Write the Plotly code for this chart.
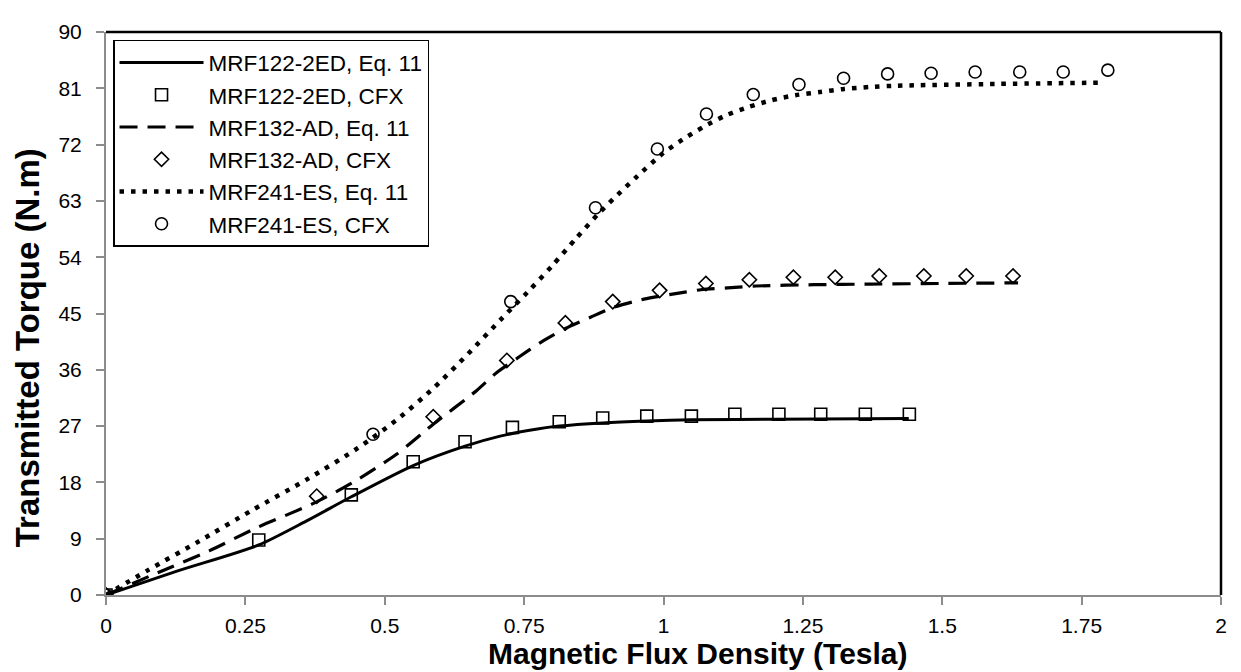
import plotly.graph_objects as go

# MRF122-2ED
eq122_x = [0, 0.13, 0.274, 0.359, 0.44, 0.551, 0.644, 0.707, 0.771, 0.813, 0.891, 0.97, 1.05, 1.2, 1.44]
eq122_y = [0, 3.9, 8.0, 11.8, 15.7, 20.7, 23.8, 25.4, 26.5, 27.0, 27.5, 27.8, 28.0, 28.1, 28.2]
cfx122_x = [0, 0.274, 0.44, 0.551, 0.644, 0.729, 0.813, 0.891, 0.97, 1.05, 1.128, 1.207, 1.282, 1.362, 1.441]
cfx122_y = [0, 8.8, 16.0, 21.3, 24.5, 26.8, 27.7, 28.3, 28.6, 28.6, 28.9, 28.9, 28.9, 28.9, 28.9]

# MRF132-AD
eq132_x = [0, 0.095, 0.185, 0.269, 0.371, 0.443, 0.521, 0.587, 0.665, 0.70, 0.74, 0.78, 0.824, 0.869,
           0.911, 0.965, 1.016, 1.067, 1.115, 1.166, 1.27, 1.37, 1.5, 1.636]
eq132_y = [0, 3.65, 7.05, 10.7, 14.6, 18.0, 22.5, 27.3, 32.7, 35.5, 38.0, 40.4, 42.6, 44.4,
           46.0, 47.3, 48.1, 48.8, 49.1, 49.4, 49.6, 49.7, 49.8, 49.9]
cfx132_x = [0, 0.378, 0.587, 0.719, 0.824, 0.909, 0.993, 1.076, 1.154, 1.233, 1.308, 1.387, 1.467, 1.543, 1.627]
cfx132_y = [0, 15.8, 28.5, 37.5, 43.5, 46.9, 48.7, 49.8, 50.4, 50.8, 50.8, 51.0, 51.0, 51.0, 51.0]

# MRF241-ES
eq241_x = [0, 0.074, 0.167, 0.263, 0.359, 0.452, 0.523, 0.589, 0.650, 0.711, 0.756, 0.800, 0.844, 0.887,
           0.918, 0.950, 0.999, 1.034, 1.071, 1.110, 1.152, 1.194, 1.237, 1.281, 1.324, 1.369, 1.413, 1.6, 1.789]
eq241_y = [0, 3.9, 8.6, 13.6, 18.4, 23.5, 28.1, 33.2, 38.6, 44.3, 48.4, 52.6, 57.1, 61.3,
           64.0, 66.7, 70.6, 72.8, 74.8, 76.6, 78.0, 79.1, 79.9, 80.4, 80.9, 81.2, 81.4, 81.7, 81.9]
cfx241_x = [0, 0.479, 0.726, 0.878, 0.989, 1.077, 1.161, 1.243, 1.323, 1.402, 1.480, 1.559, 1.639, 1.717, 1.797]
cfx241_y = [0, 25.7, 46.9, 61.9, 71.3, 76.9, 80.0, 81.6, 82.6, 83.3, 83.4, 83.6, 83.6, 83.6, 83.9]

x_ticks = [0, 0.25, 0.5, 0.75, 1, 1.25, 1.5, 1.75, 2]
x_tick_labels = ["0", "0.25", "0.5", "0.75", "1", "1.25", "1.5", "1.75", "2"]
y_ticks = [0, 9, 18, 27, 36, 45, 54, 63, 72, 81, 90]

names = ["MRF122-2ED, Eq. 11", "MRF122-2ED, CFX", "MRF132-AD, Eq. 11",
         "MRF132-AD, CFX", "MRF241-ES, Eq. 11", "MRF241-ES, CFX"]

fig = go.Figure()
mk_line = dict(color="black", width=1.6)

fig.add_trace(go.Scatter(x=eq122_x, y=eq122_y, mode="lines", name=names[0],
                         line=dict(color="black", width=3, shape="spline", smoothing=0.7)))
fig.add_trace(go.Scatter(x=cfx122_x, y=cfx122_y, mode="markers", name=names[1],
                         marker=dict(symbol="square-open", size=12, color="black", line=mk_line)))
fig.add_trace(go.Scatter(x=eq132_x, y=eq132_y, mode="lines", name=names[2],
                         line=dict(color="black", width=3.2, dash="18px,10px", shape="spline", smoothing=0.7)))
fig.add_trace(go.Scatter(x=cfx132_x, y=cfx132_y, mode="markers", name=names[3],
                         marker=dict(symbol="diamond-open", size=11, color="black", line=mk_line)))
fig.add_trace(go.Scatter(x=eq241_x, y=eq241_y, mode="lines", name=names[4],
                         line=dict(color="black", width=4.5, dash="4.5px,7px", shape="spline", smoothing=0.7)))
fig.add_trace(go.Scatter(x=cfx241_x, y=cfx241_y, mode="markers", name=names[5],
                         marker=dict(symbol="circle-open", size=12, color="black", line=mk_line)))

axis_gray = "#8c8c8c"
# page body has an 8px default margin, so the figure is sized to fit the 1241x672 window
fig.update_layout(
    width=1233, height=664,
    margin=dict(l=98, r=20, t=13, b=77),
    paper_bgcolor="white", plot_bgcolor="white",
    font=dict(family="Arial, Liberation Sans, sans-serif", color="black", size=21),
    showlegend=True,
    legend=dict(x=0.0063, y=0.986, xanchor="left", yanchor="top",
                bordercolor="black", borderwidth=1.5, bgcolor="white",
                font=dict(size=22.5), itemwidth=84, tracegroupgap=0,
                traceorder="normal"),
    xaxis=dict(range=[0, 2], tickvals=x_ticks, ticktext=x_tick_labels,
               showgrid=False, zeroline=False, showline=True, linecolor=axis_gray, linewidth=2,
               ticks="outside", ticklen=8, tickcolor=axis_gray, tickwidth=1.5,
               ticklabelstandoff=3, tickfont=dict(size=21)),
    yaxis=dict(range=[0, 90], tickvals=y_ticks,
               showgrid=False, zeroline=False, showline=True, linecolor=axis_gray, linewidth=2,
               ticks="outside", ticklen=8, tickcolor=axis_gray, tickwidth=1.5,
               ticklabelstandoff=10, tickfont=dict(size=21)),
    shapes=[
        dict(type="line", xref="paper", yref="paper", x0=0, x1=1, y0=1, y1=1,
             line=dict(color="black", width=2.5)),
        dict(type="line", xref="paper", yref="paper", x0=1, x1=1, y0=0, y1=1,
             line=dict(color="black", width=2.5)),
    ],
    annotations=[
        dict(text="<b>Magnetic Flux Density (Tesla)</b>", xref="paper", yref="paper",
             x=0.531, y=-0.1035, xanchor="center", yanchor="middle", showarrow=False,
             font=dict(size=30)),
        dict(text="<b>Transmitted Torque (N.m)</b>", xref="paper", yref="paper",
             x=-0.0709, y=0.44, xanchor="center", yanchor="middle", showarrow=False,
             textangle=-90, font=dict(size=33)),
    ],
)

fig.write_html("out.html")
